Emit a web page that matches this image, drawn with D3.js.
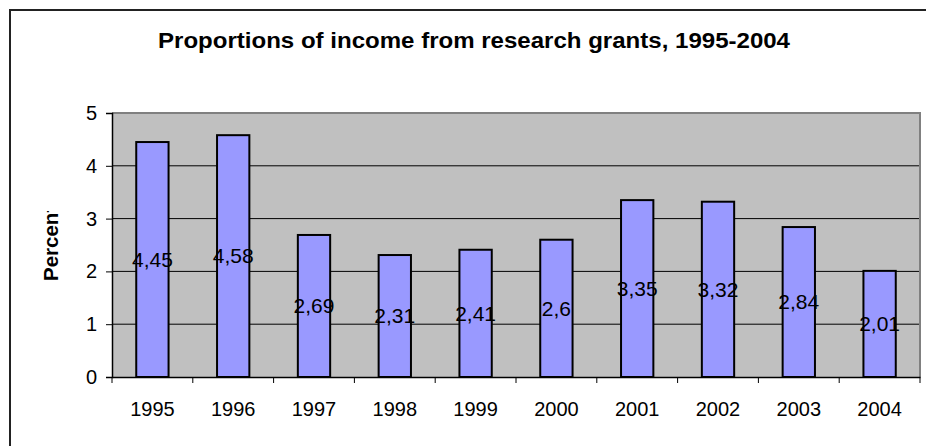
<!DOCTYPE html>
<html>
<head>
<meta charset="utf-8">
<script src="https://cdn.jsdelivr.net/npm/d3@7"></script>
<style>
  html, body { margin: 0; padding: 0; background: #fff; }
  svg { display: block; font-family: "Liberation Sans", Arial, sans-serif; }
</style>
</head>
<body>
<svg id="chart" width="926" height="446"></svg>
<script>
// Research-grant share of income by year
const years = ["1995", "1996", "1997", "1998", "1999", "2000", "2001", "2002", "2003", "2004"];
const percents = [4.45, 4.58, 2.69, 2.31, 2.41, 2.6, 3.35, 3.32, 2.84, 2.01];
const yTicks = [0, 1, 2, 3, 4, 5];
const titleText = "Proportions of income from research grants, 1995-2004";
const yTitle = "Percent";

const svg = d3.select("#chart");
const W = 926, H = 446;
const plot = { left: 112, right: 920, top: 113, bottom: 377 };

// outer chart frame (continues past the visible edge)
svg.append("rect")
  .attr("x", 10).attr("y", 10)
  .attr("width", W + 20).attr("height", H + 20)
  .attr("fill", "#fff").attr("stroke", "#222").attr("stroke-width", 2);

const x = d3.scaleBand().domain(years).range([plot.left, plot.right]).paddingInner(0).paddingOuter(0);
const y = d3.scaleLinear().domain([0, 5]).range([plot.bottom, plot.top]);

// plot background
svg.append("rect")
  .attr("x", plot.left).attr("y", plot.top)
  .attr("width", plot.right - plot.left).attr("height", plot.bottom - plot.top)
  .attr("fill", "#c0c0c0");

// horizontal gridlines
svg.append("g").selectAll("line")
  .data(yTicks.filter(t => t > 0 && t < 5))
  .join("line")
  .attr("x1", plot.left).attr("x2", plot.right)
  .attr("y1", d => y(d)).attr("y2", d => y(d))
  .attr("stroke", "#000").attr("stroke-width", 1);

// top and right plot border
svg.append("path")
  .attr("d", `M${plot.left},${plot.top}H${plot.right}V${plot.bottom}`)
  .attr("fill", "none").attr("stroke", "#808080").attr("stroke-width", 2);

// bars
const barW = x.bandwidth() / 2.5;
svg.append("g").selectAll("rect")
  .data(years.map((yr, i) => ({ yr, v: percents[i] })))
  .join("rect")
  .attr("x", d => x(d.yr) + (x.bandwidth() - barW) / 2)
  .attr("y", d => y(d.v))
  .attr("width", barW)
  .attr("height", d => y(0) - y(d.v))
  .attr("fill", "#9999ff")
  .attr("stroke", "#000").attr("stroke-width", 2);

// value labels centred within each bar
const fmt = v => String(v).replace(".", ",");
svg.append("g").selectAll("text")
  .data(years.map((yr, i) => ({ yr, v: percents[i] })))
  .join("text")
  .attr("x", d => x(d.yr) + x.bandwidth() / 2)
  .attr("y", d => y(d.v / 2))
  .attr("dy", "0.35em")
  .attr("text-anchor", "middle")
  .attr("font-size", 21)
  .attr("fill", "#000")
  .text(d => fmt(d.v));

// y axis
const yAxis = svg.append("g")
  .attr("transform", `translate(${plot.left},0)`)
  .call(d3.axisLeft(y).tickValues(yTicks).tickSize(6).tickPadding(9).tickFormat(d3.format("d")));
yAxis.select(".domain").attr("stroke", "#000").attr("stroke-width", 1.5);
yAxis.selectAll(".tick line").attr("stroke", "#000");
yAxis.selectAll("text").attr("font-size", 20).attr("fill", "#000")
  .attr("font-family", "Liberation Sans, Arial, sans-serif");

// x axis with ticks on category boundaries
const xAxis = svg.append("g")
  .attr("transform", `translate(0,${plot.bottom})`)
  .call(d3.axisBottom(x).tickSize(0).tickPadding(25));
xAxis.select(".domain").attr("stroke", "#000").attr("stroke-width", 1.5);
xAxis.selectAll("text").attr("font-size", 20).attr("fill", "#000")
  .attr("font-family", "Liberation Sans, Arial, sans-serif");
xAxis.append("g").selectAll("line")
  .data(years.map(yr => x(yr)).concat([plot.right]))
  .join("line")
  .attr("x1", d => d).attr("x2", d => d)
  .attr("y1", 0).attr("y2", 6)
  .attr("stroke", "#000");

// title
svg.append("text")
  .attr("x", 474).attr("y", 48)
  .attr("text-anchor", "middle")
  .attr("font-size", 22).attr("font-weight", "bold")
  .attr("textLength", 632).attr("lengthAdjust", "spacingAndGlyphs")
  .text(titleText);

// y-axis title, clipped at its top like a narrow title box
svg.append("clipPath").attr("id", "ytitle-clip")
  .append("rect").attr("x", 0).attr("y", 211).attr("width", 100).attr("height", 120);
svg.append("g")
  .attr("clip-path", "url(#ytitle-clip)")
  .append("text")
  .attr("transform", "translate(58,281) rotate(-90)")
  .attr("text-anchor", "start")
  .attr("font-size", 20.5).attr("font-weight", "bold")
  .attr("fill", "#000")
  .text(yTitle);
</script>
</body>
</html>
